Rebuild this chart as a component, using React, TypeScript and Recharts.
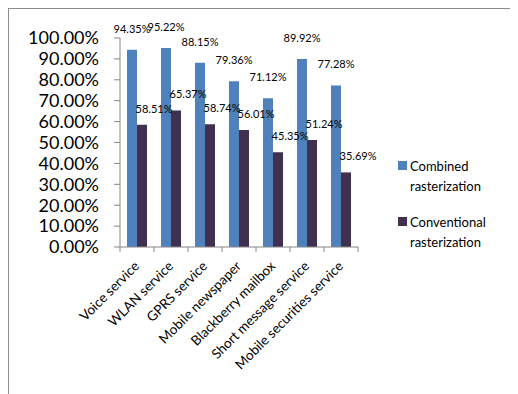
import { BarChart, Bar, XAxis, YAxis, Legend, LabelList } from 'recharts';

const categories = [
  'Voice service',
  'WLAN service',
  'GPRS service',
  'Mobile newspaper',
  'Blackberry mailbox',
  'Short message service',
  'Mobile securities service',
];
const combined = [94.35, 95.22, 88.15, 79.36, 71.12, 89.92, 77.28];
const conventional = [58.51, 65.37, 58.74, 56.01, 45.35, 51.24, 35.69];
const yTicks = [0, 10, 20, 30, 40, 50, 60, 70, 80, 90, 100];

const data = categories.map((name, i) => ({
  name,
  combined: combined[i],
  conventional: conventional[i],
}));

const FONT = 'Lato, "Open Sans", sans-serif';
const AXIS = '#868686';

const fmt = (v: number) => `${v.toFixed(2)}%`;

function CategoryTick(props: any) {
  const { x, y, payload, index } = props;
  const half = payload?.offset || 17;
  const last = index === categories.length - 1;
  return (
    <g>
      <line x1={x - half} x2={x - half} y1={y} y2={y + 5} stroke={AXIS} />
      {last && <line x1={x + half} x2={x + half} y1={y} y2={y + 5} stroke={AXIS} />}
      <text
        x={x + 3}
        y={y + 20}
        textAnchor="end"
        fontSize={13.5}
        fontFamily={FONT}
        fill="#000"
        transform={`rotate(-45, ${x + 3}, ${y + 20})`}
      >
        {payload.value}
      </text>
    </g>
  );
}

const makeLabel = (dx: number, dy: number) => (props: any) => {
  const { x, y, width, value } = props;
  return (
    <text
      x={x + width / 2 + dx}
      y={y - dy}
      textAnchor="middle"
      fontSize={11}
      fontFamily={FONT}
      fill="#000"
    >
      {fmt(value)}
    </text>
  );
};

function LegendBox(props: any) {
  const items = props.payload || [];
  return (
    <div style={{ fontFamily: FONT, fontSize: 13, color: '#000' }}>
      {items.map((it: any) => (
        <div key={it.value} style={{ display: 'flex', alignItems: 'flex-start', marginBottom: 16 }}>
          <div style={{ width: 9, height: 9, background: it.color, marginTop: 5, marginRight: 3 }} />
          <div style={{ width: 95, lineHeight: '20px' }}>{it.value}</div>
        </div>
      ))}
    </div>
  );
}

export default function App() {
  return (
    <div
      style={{
        width: 509,
        height: 385,
        borderLeft: '1px solid #8c8c8c',
        borderTop: '1px solid #8c8c8c',
        background: '#fff',
      }}
    >
      <BarChart
        width={509}
        height={385}
        data={data}
        margin={{ top: 29, right: 160, bottom: 0, left: 0 }}
        barSize={10}
        barGap={0}
      >
        <XAxis
          dataKey="name"
          interval={0}
          height={147}
          tickSize={0}
          tickMargin={0}
          tickLine={false}
          axisLine={{ stroke: AXIS }}
          tick={<CategoryTick />}
        />
        <YAxis
          width={111}
          domain={[0, 100]}
          ticks={yTicks}
          interval={0}
          tickFormatter={fmt}
          tickSize={6}
          tickMargin={15}
          axisLine={{ stroke: AXIS }}
          tickLine={{ stroke: AXIS }}
          tick={{ fontSize: 18, fontFamily: FONT, fill: '#000' }}
        />
        <Legend
          layout="vertical"
          align="center"
          verticalAlign="middle"
          wrapperStyle={{ left: 389, top: 147, width: 115 }}
          content={<LegendBox />}
        />
        <Bar dataKey="combined" name="Combined rasterization" fill="#4F81BD" isAnimationActive={false}>
          <LabelList dataKey="combined" content={makeLabel(0, 17)} />
        </Bar>
        <Bar dataKey="conventional" name="Conventional rasterization" fill="#403151" isAnimationActive={false}>
          <LabelList dataKey="conventional" content={makeLabel(12, 12)} />
        </Bar>
      </BarChart>
    </div>
  );
}
